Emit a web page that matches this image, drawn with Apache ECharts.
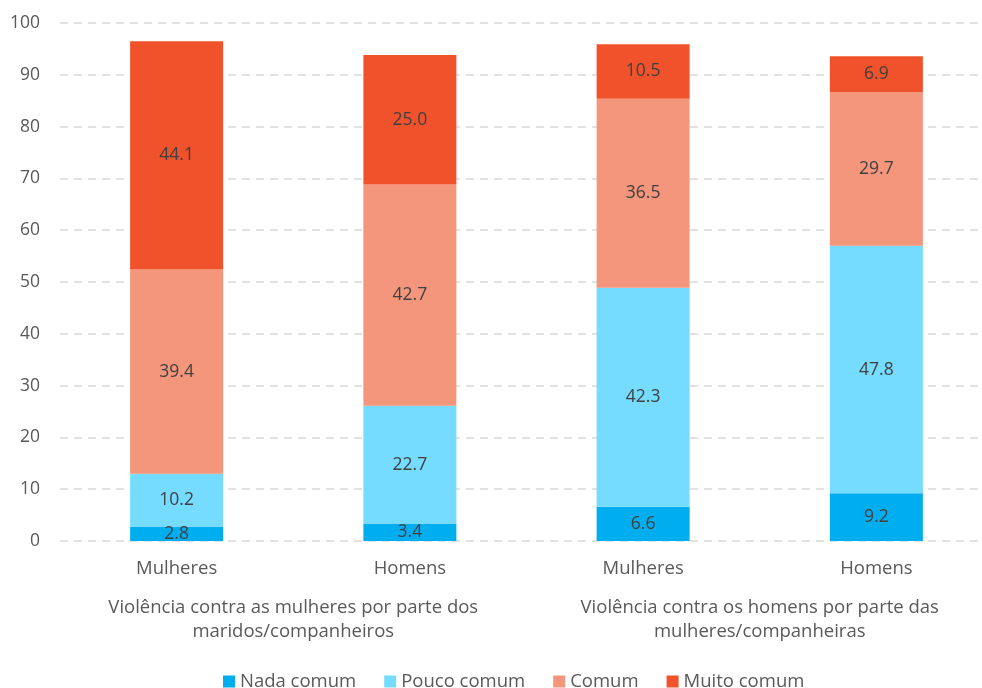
<!DOCTYPE html>
<html>
<head>
<meta charset="utf-8">
<script src="https://cdn.jsdelivr.net/npm/echarts@6/dist/echarts.min.js"></script>
<style>
    html, body { margin: 0; padding: 0; background: #fff; }
    #chart { width: 982px; height: 688px; }
</style>
</head>
<body>
<div id="chart"></div>
<script>
var categories = ['Mulheres', 'Homens', 'Mulheres', 'Homens'];
var groups = ['Violência contra as mulheres por parte dos\nmaridos/companheiros', 'Violência contra os homens por parte das\nmulheres/companheiras'];
var nadaComum = [2.8, 3.4, 6.6, 9.2];
var poucoComum = [10.2, 22.7, 42.3, 47.8];
var comum = [39.4, 42.7, 36.5, 29.7];
var muitoComum = [44.1, 25.0, 10.5, 6.9];
var yTicks = [0, 10, 20, 30, 40, 50, 60, 70, 80, 90, 100];

var fonte = '"Open Sans", sans-serif';

function serie(nome, dados, cor) {
    return {
        name: nome,
        type: 'bar',
        stack: 'total',
        barWidth: 93,
        data: dados,
        itemStyle: { color: cor },
        label: {
            show: true,
            position: 'inside',
            color: '#404040',
            fontFamily: fonte,
            fontSize: 17.5,
            formatter: function (p) { return p.value.toFixed(1); }
        }
    };
}

var chart = echarts.init(document.getElementById('chart'));
chart.setOption({
    animation: false,
    textStyle: { fontFamily: fonte },
    grid: { left: 60, right: -11, top: 23, bottom: 147, outerBoundsMode: 'none', containLabel: false },
    legend: {
        top: 667,
        left: 218,
        itemWidth: 12,
        itemHeight: 12,
        itemGap: 28,
        icon: 'rect',
        textStyle: { color: '#595959', fontSize: 18.5, fontFamily: fonte },
        data: ['Nada comum', 'Pouco comum', 'Comum', 'Muito comum']
    },
    xAxis: [{
        type: 'category',
        data: categories,
        axisLine: { show: false },
        axisTick: { show: false },
        axisLabel: { color: '#595959', fontSize: 18.5, margin: 18, interval: 0 }
    }, {
        type: 'category',
        data: groups,
        position: 'bottom',
        offset: 47,
        axisLine: { show: false },
        axisTick: { show: false },
        axisLabel: { color: '#595959', fontSize: 18.5, lineHeight: 24, margin: 8, interval: 0 }
    }],
    yAxis: {
        type: 'value',
        min: yTicks[0],
        max: yTicks[yTicks.length - 1],
        interval: 10,
        axisLine: { show: false },
        axisTick: { show: false },
        axisLabel: { color: '#595959', fontSize: 17.5, margin: 20 },
        splitLine: { lineStyle: { color: '#d9d9d9', type: [8, 6], width: 1.5 } }
    },
    series: [
        serie('Nada comum', nadaComum, '#00AEEF'),
        serie('Pouco comum', poucoComum, '#75DBFF'),
        serie('Comum', comum, '#F4967C'),
        serie('Muito comum', muitoComum, '#F0522B')
    ]
});
</script>
</body>
</html>
